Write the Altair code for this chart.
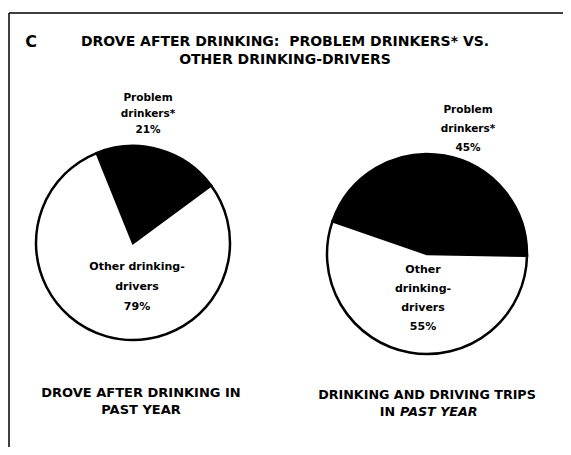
import math
import altair as alt
import pandas as pd

# ---- data ----
groups = ["Problem drinkers*", "Other drinking-drivers"]
drove_after_drinking = [21, 79]
drinking_driving_trips = [45, 55]

title_lines = ["DROVE AFTER DRINKING:\u00a0 PROBLEM DRINKERS* VS.", "OTHER DRINKING-DRIVERS"]
panel_letter = "C"
left_caption = ["DROVE AFTER DRINKING IN", "PAST YEAR"]
right_caption_line1 = "DRINKING AND DRIVING TRIPS"
right_caption_line2 = ["IN", "PAST YEAR"]
left_problem_label = ["Problem", "drinkers*", "21%"]
left_other_label = ["Other drinking-", "drivers", "79%"]
right_problem_label = ["Problem", "drinkers*", "45%"]
right_other_label = ["Other", "drinking-", "drivers", "55%"]

FONT = "DejaVu Sans"
W, H = 555, 439


def pie(values, cx, cy, r, start_deg):
    df = pd.DataFrame({"group": groups, "value": values, "ord": [0, 1]})
    s = math.radians(start_deg)
    return alt.Chart(df).mark_arc(
        x=cx, y=cy, outerRadius=r, stroke="black", strokeWidth=2.5
    ).encode(
        theta=alt.Theta("value:Q", stack=True,
                        scale=alt.Scale(domain=[0, 100], range=[s, s + 2 * math.pi])),
        color=alt.Color("group:N", scale=alt.Scale(domain=groups, range=["black", "white"]),
                        legend=None),
        order=alt.Order("ord:Q"),
    )


def label(lines, x, y, size, line_height, weight="bold", style="normal", align="center", baseline="middle"):
    df = pd.DataFrame({"t": ["\n".join(lines) if isinstance(lines, list) else lines]})
    return alt.Chart(df).mark_text(
        font=FONT, fontSize=size, fontWeight=weight, fontStyle=style, align=align,
        baseline=baseline, lineBreak="\n", lineHeight=line_height, color="black"
    ).encode(x=alt.value(x), y=alt.value(y), text="t:N")


frame_df = pd.DataFrame({"k": [0]})
frame_left = alt.Chart(frame_df).mark_rule(color="black", strokeWidth=1.5).encode(
    x=alt.value(1), x2=alt.value(1), y=alt.value(5), y2=alt.value(H))
frame_top = alt.Chart(frame_df).mark_rule(color="black", strokeWidth=1.5).encode(
    x=alt.value(1), x2=alt.value(W), y=alt.value(5), y2=alt.value(5))

layers = [
    frame_left, frame_top,
    pie(drove_after_drinking, 125, 235, 97, -22),
    pie(drinking_driving_trips, 419, 246, 100, -71),
    label(panel_letter, 23, 34, 16, 18),
    label(title_lines, 277, 34, 14, 18),
    label(left_problem_label, 140, 90, 10.5, 16),
    label(left_other_label, 129, 259, 11, 20),
    label(right_problem_label, 460, 102, 10.5, 19),
    label(right_other_label, 415, 262, 11, 19),
    label(left_caption, 133, 385, 13, 17),
    label(right_caption_line1, 419, 387, 12.7, 17),
    label(right_caption_line2[0], 387, 404, 12.7, 17, align="right"),
    label(right_caption_line2[1], 392, 404, 12.7, 17, style="italic", align="left"),
]

chart = alt.layer(*layers).resolve_scale(theta="independent").properties(
    width=W, height=H, autosize="none", padding=0
).configure_view(stroke=None)

chart.save("out.html", embed_options={"renderer": "svg", "actions": False})
